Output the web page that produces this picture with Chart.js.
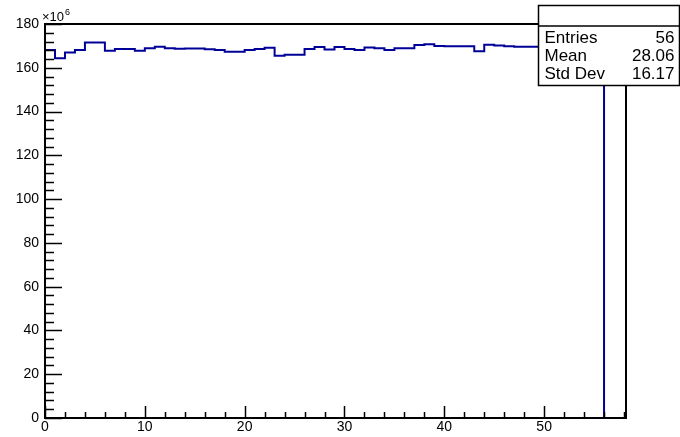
<!DOCTYPE html>
<html><head><meta charset="utf-8">
<script src="https://cdn.jsdelivr.net/npm/chart.js@4"></script>
<style>html,body{margin:0;padding:0;background:#fff}canvas{display:block}</style>
</head><body>
<canvas id="c" width="680" height="437"></canvas>
<script>
// bin contents (x10^6), bins of width 1 starting at 0
const binValues = [168.1,164.3,167.0,168.1,171.6,171.6,167.8,168.6,168.6,167.8,
  168.9,169.6,168.9,168.7,168.8,168.8,168.5,168.1,167.3,167.3,
  168.1,168.6,169.2,165.5,166.0,166.0,168.6,169.5,168.3,169.5,
  168.6,168.1,169.3,168.9,168.1,168.9,168.9,170.4,170.7,169.9,
  169.8,169.8,169.8,167.5,170.5,170.2,169.8,169.6,169.6,169.6,
  169.7,169.5,170.0,169.8,169.4,169.9];
const binLow = 0;
const binWidth = 1;
const xMin = 0, xMax = 58.2;
const yMin = 0, yMax = 180;
const xMajorStep = 10, xMinorStep = 2;
const yMajorStep = 20, yMinorStep = 4;
const yExponentLabel = "6";
const statsLabels = ["Entries", "Mean", "Std Dev"];
const statsValues = ["56", "28.06", "16.17"];

const FONT = "'Liberation Sans', Arial, Helvetica, sans-serif";
const lineColor = "#000099";

const pts = binValues.map((v, i) => ({x: binLow + i * binWidth, y: v}));
const lastEdge = binLow + binValues.length * binWidth;
pts.push({x: lastEdge, y: binValues[binValues.length - 1]});
pts.push({x: lastEdge, y: 0});
pts.push({x: xMax, y: 0});

const rootFrame = {
  id: 'rootFrame',
  afterDatasetsDraw(chart) {
    const ctx = chart.ctx, a = chart.chartArea;
    const xs = chart.scales.x, ys = chart.scales.y;
    ctx.save();
    ctx.strokeStyle = '#000';
    ctx.lineWidth = 1.5;
    // ticks (inward)
    ctx.beginPath();
    for (let v = xMin; v <= xMax + 1e-9; v += xMinorStep) {
      const px = Math.round(xs.getPixelForValue(v)) + 0.5;
      const major = Math.abs(v / xMajorStep - Math.round(v / xMajorStep)) < 1e-6;
      const len = major ? 12 : 6;
      ctx.moveTo(px, a.bottom); ctx.lineTo(px, a.bottom - len);
    }
    for (let v = yMin; v <= yMax + 1e-9; v += yMinorStep) {
      const py = Math.round(ys.getPixelForValue(v)) + 0.5;
      const major = Math.abs(v / yMajorStep - Math.round(v / yMajorStep)) < 1e-6;
      const len = major ? 17 : 9;
      ctx.moveTo(a.left, py); ctx.lineTo(a.left + len, py);
    }
    ctx.stroke();
    // frame
    ctx.lineWidth = 2;
    ctx.strokeRect(a.left, a.top, a.right - a.left, a.bottom - a.top);
    // exponent
    ctx.fillStyle = '#000';
    ctx.textBaseline = 'alphabetic';
    ctx.textAlign = 'left';
    ctx.font = '13px ' + FONT;
    const ex = a.left - 3;
    ctx.fillText('\u00d710', ex, a.top - 3);
    const w = ctx.measureText('\u00d710').width;
    ctx.font = '9px ' + FONT;
    ctx.fillText(yExponentLabel, ex + w + 1, a.top - 9);
    // stats box
    const bx = 538.5, by = 5.5, bw = 141, bh = 80;
    ctx.fillStyle = '#fff';
    ctx.fillRect(bx, by, bw, bh);
    ctx.lineWidth = 1.5;
    ctx.strokeRect(bx, by, bw, bh);
    ctx.beginPath(); ctx.moveTo(bx, 26); ctx.lineTo(bx + bw, 26); ctx.stroke();
    ctx.fillStyle = '#000';
    ctx.font = '17px ' + FONT;
    const rows = [43, 61, 79];
    statsLabels.forEach((l, i) => {
      ctx.textAlign = 'left'; ctx.fillText(l, bx + 6, rows[i]);
      ctx.textAlign = 'right'; ctx.fillText(statsValues[i], bx + bw - 5, rows[i]);
    });
    ctx.restore();
  }
};

new Chart(document.getElementById('c'), {
  type: 'line',
  data: { datasets: [{
    data: pts, stepped: 'before', borderColor: lineColor, borderWidth: 2,
    pointRadius: 0, fill: false, tension: 0
  }]},
  options: {
    responsive: false, animation: false, devicePixelRatio: 1,
    layout: { padding: { top: 24, right: 54, left: 0, bottom: 0 } },
    plugins: { legend: { display: false }, tooltip: { enabled: false } },
    scales: {
      x: { type: 'linear', min: xMin, max: xMax,
        grid: { display: false, drawTicks: false }, border: { display: false },
        afterFit(s) { s.height = 19; },
        afterBuildTicks(s) { const t = []; for (let v = xMin; v <= 50; v += xMajorStep) t.push({value: v}); s.ticks = t; },
        ticks: { padding: 1, color: '#000', font: { family: FONT, size: 14 }, maxRotation: 0 } },
      y: { type: 'linear', min: yMin, max: yMax,
        grid: { display: false, drawTicks: false }, border: { display: false },
        afterFit(s) { s.width = 45; },
        afterBuildTicks(s) { const t = []; for (let v = yMin; v <= yMax; v += yMajorStep) t.push({value: v}); s.ticks = t; },
        ticks: { padding: 6, color: '#000', font: { family: FONT, size: 14 } } }
    }
  },
  plugins: [rootFrame]
});
</script>
</body></html>
